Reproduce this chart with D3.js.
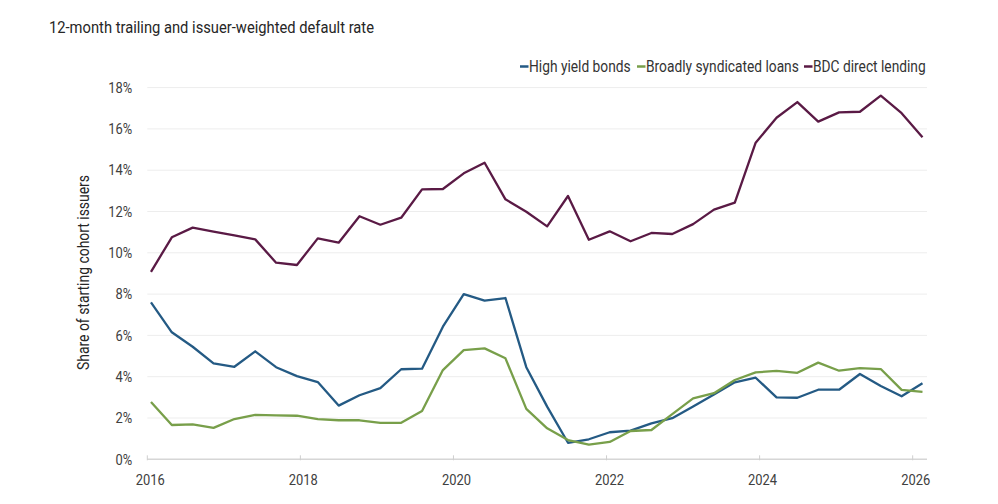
<!DOCTYPE html>
<html lang="en">
<head>
  <meta charset="UTF-8">
  <title>12-month trailing and issuer-weighted default rate</title>
  <script src="https://d3js.org/d3.v7.min.js"></script>
  <style>
    body {
      margin: 0;
      background: #ffffff;
    }
    svg {
      display: block;
      font-family: Roboto, "Noto Sans", sans-serif;
    }
  </style>
</head>
<body>
  <svg id="chart" width="998" height="504"></svg>

  <script>
    const quarters = [
      "1Q16", "2Q16", "3Q16", "4Q16", "1Q17", "2Q17", "3Q17", "4Q17",
      "1Q18", "2Q18", "3Q18", "4Q18", "1Q19", "2Q19", "3Q19", "4Q19",
      "1Q20", "2Q20", "3Q20", "4Q20", "1Q21", "2Q21", "3Q21", "4Q21",
      "1Q22", "2Q22", "3Q22", "4Q22", "1Q23", "2Q23", "3Q23", "4Q23",
      "1Q24", "2Q24", "3Q24", "4Q24", "1Q25", "2Q25"
    ];

    const highYield = [
      7.60, 6.15, 5.45, 4.65, 4.48, 5.23, 4.46, 4.03, 3.74, 2.60,
      3.10, 3.45, 4.36, 4.39, 6.42, 8.00, 7.68, 7.81, 4.46, 2.55,
      0.80, 0.97, 1.31, 1.39, 1.74, 1.99, 2.56, 3.14, 3.73, 3.95,
      3.00, 2.98, 3.37, 3.37, 4.13, 3.55, 3.05, 3.68
    ];

    const loans = [
      2.77, 1.66, 1.69, 1.52, 1.95, 2.15, 2.13, 2.11, 1.95, 1.89,
      1.89, 1.76, 1.77, 2.34, 4.32, 5.29, 5.37, 4.89, 2.44, 1.50,
      0.93, 0.71, 0.84, 1.37, 1.42, 2.19, 2.95, 3.20, 3.84, 4.21,
      4.28, 4.19, 4.68, 4.29, 4.42, 4.37, 3.36, 3.27
    ];

    const bdc = [
      9.08, 10.75, 11.22, 11.03, 10.84, 10.65, 9.52, 9.41, 10.70, 10.49,
      11.77, 11.36, 11.70, 13.07, 13.09, 13.85, 14.36, 12.59, 11.99, 11.28,
      12.75, 10.63, 11.04, 10.56, 10.96, 10.91, 11.39, 12.09, 12.43, 15.33,
      16.54, 17.30, 16.35, 16.80, 16.83, 17.61, 16.76, 15.59
    ];

    const seriesNames = ["High yield bonds", "Broadly syndicated loans", "BDC direct lending"];
    const yearTicks = [2016, 2018, 2020, 2022, 2024, 2026];
    const yTicks = [0, 2, 4, 6, 8, 10, 12, 14, 16, 18];

    const colors = ["#245a84", "#789f4a", "#5a1a45"];
    const seriesValues = [highYield, loans, bdc];

    const svg = d3.select("#chart");
    const margin = {top: 87.6, right: 71, bottom: 44.7, left: 147.3};
    const width = 998 - margin.left - margin.right,
          height = 504 - margin.top - margin.bottom;

    const g = svg.append("g").attr("transform", `translate(${margin.left},${margin.top})`);

    // Year axis spans the plot; the quarterly points sit a little inside it
    const xYear = d3.scaleLinear().domain([2016, 2026.187]).range([0, width]);
    const x = d3.scalePoint().domain(quarters).range([xYear(2016.048), xYear(2026.128)]);
    const y = d3.scaleLinear().domain([0, 18]).range([height, 0]);

    // Gridlines
    g.append("g")
      .selectAll("line")
      .data(yTicks.filter(d => d > 0))
      .join("line")
        .attr("x1", 0)
        .attr("x2", width)
        .attr("y1", d => y(d))
        .attr("y2", d => y(d))
        .attr("stroke", "#ededed")
        .attr("stroke-width", 1);

    // Y axis labels
    g.append("g")
      .selectAll("text")
      .data(yTicks)
      .join("text")
        .attr("class", "lbl")
        .attr("x", -15)
        .attr("y", d => y(d))
        .attr("dy", "0.35em")
        .attr("text-anchor", "end")
        .attr("font-size", 15)
        .attr("fill", "#404040")
        .text(d => d + "%");

    // X axis baseline and ticks
    g.append("line")
      .attr("x1", 0)
      .attr("x2", width)
      .attr("y1", height)
      .attr("y2", height)
      .attr("stroke", "#d6d6d6")
      .attr("stroke-width", 1.5);

    g.append("g")
      .selectAll("line")
      .data(yearTicks)
      .join("line")
        .attr("x1", d => xYear(d))
        .attr("x2", d => xYear(d))
        .attr("y1", height - 4)
        .attr("y2", height + 1)
        .attr("stroke", "#cfcfcf")
        .attr("stroke-width", 1);

    g.append("g")
      .selectAll("text")
      .data(yearTicks)
      .join("text")
        .attr("class", "lbl")
        .attr("x", d => xYear(d) + 3)
        .attr("y", height + 26)
        .attr("text-anchor", "middle")
        .attr("font-size", 15)
        .attr("fill", "#404040")
        .text(d => d);

    // Series lines
    const line = d3.line()
      .x((d, i) => x(quarters[i]))
      .y(d => y(d));

    seriesValues.forEach((vals, k) => {
      g.append("path")
        .datum(vals)
        .attr("fill", "none")
        .attr("stroke", colors[k])
        .attr("stroke-width", 2.3)
        .attr("stroke-linejoin", "round")
        .attr("d", line);
    });

    // Title
    svg.append("text")
      .attr("class", "fit")
      .attr("data-len", 325)
      .attr("x", 49)
      .attr("y", 32.5)
      .attr("font-size", 16.5)
      .attr("fill", "#262626")
      .text("12-month trailing and issuer-weighted default rate");

    // Y axis title
    svg.append("text")
      .attr("class", "fit")
      .attr("data-len", 195)
      .attr("transform", "rotate(-90)")
      .attr("x", -272.5)
      .attr("y", 89)
      .attr("text-anchor", "middle")
      .attr("font-size", 16)
      .attr("fill", "#262626")
      .text("Share of starting cohort issuers");

    // Legend
    const legendX = [520, 637, 804];
    const legend = svg.append("g");
    seriesNames.forEach((name, k) => {
      legend.append("line")
        .attr("x1", legendX[k])
        .attr("x2", legendX[k] + 8.5)
        .attr("y1", 66.5)
        .attr("y2", 66.5)
        .attr("stroke", colors[k])
        .attr("stroke-width", 2.5);
      legend.append("text")
        .attr("class", "lbl")
        .attr("x", legendX[k] + 9)
        .attr("y", 72.3)
        .attr("font-size", 16)
        .attr("fill", "#333333")
        .text(name);
    });

    // The original uses a condensed face; squeeze Roboto to match
    svg.selectAll("text.lbl").each(function() {
      const w = this.getComputedTextLength();
      d3.select(this)
        .attr("textLength", w * 0.86)
        .attr("lengthAdjust", "spacingAndGlyphs");
    });
    svg.selectAll("text.fit").each(function() {
      d3.select(this)
        .attr("textLength", +this.getAttribute("data-len"))
        .attr("lengthAdjust", "spacingAndGlyphs");
    });
  </script>
</body>
</html>
